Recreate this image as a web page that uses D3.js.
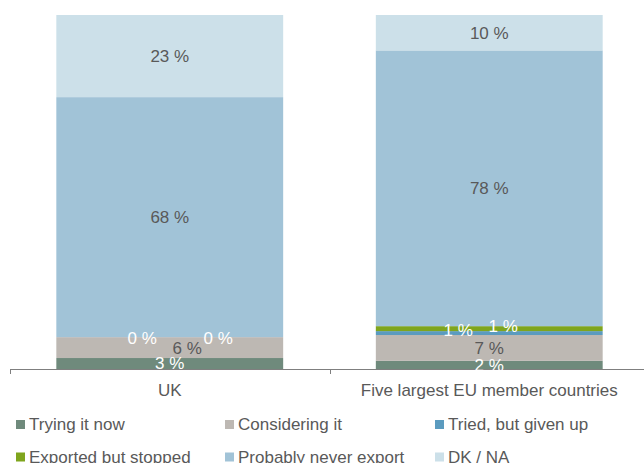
<!DOCTYPE html>
<html>
<head>
<meta charset="utf-8">
<script src="https://cdn.jsdelivr.net/npm/d3@7/dist/d3.min.js"></script>
<style>
  html, body { margin: 0; padding: 0; background: #fff; }
  svg { display: block; font-family: "Liberation Sans", Arial, sans-serif; }
</style>
</head>
<body>
<svg id="chart" width="644" height="463"></svg>
<script>
// ---- Data ----
const categories = ["UK", "Five largest EU member countries"];
const seriesNames = ["Trying it now", "Considering it", "Tried, but given up",
                     "Exported but stopped", "Probably never export", "DK / NA"];
// values per series, in order of categories (percent)
const tryingNow      = [3.1, 2.3];
const consideringIt  = [5.9, 7.3];
const triedGivenUp   = [0.0, 1.1];
const exportedStopped= [0.0, 1.4];
const neverExport    = [67.8, 77.9];
const dkNa           = [23.2, 10.0];
const yDomain = [0, 100];

// ---- Styles ----
const colors = ["#6f8a7c", "#bdb8b3", "#5b9bbf", "#7fa51d", "#a1c3d7", "#cce0e9"];
const labelColors = ["#ffffff", "#595959", "#ffffff", "#ffffff", "#595959", "#595959"];
// manual label nudges [series][category] -> [dx, dy]
const labelNudge = {
  "2-0": [-27.5, 1], "3-0": [48.5, 1],
  "1-0": [17.5, 0],
  "2-1": [-31, -3], "3-1": [14, -3]
};

const seriesValues = [tryingNow, consideringIt, triedGivenUp, exportedStopped, neverExport, dkNa];
const table = categories.map((c, i) => {
  const row = { category: c };
  seriesNames.forEach((s, j) => row[s] = seriesValues[j][i]);
  return row;
});

const svg = d3.select("#chart");
const x = d3.scaleBand().domain(categories).range([10, 649]).paddingInner(0.29).paddingOuter(0.145);
const y = d3.scaleLinear().domain(yDomain).range([369, 15]);

const stack = d3.stack().keys(seriesNames);
const stacked = stack(table);

const g = svg.append("g");
stacked.forEach((layer, si) => {
  g.selectAll(null).data(layer).enter().append("rect")
    .attr("x", d => x(d.data.category))
    .attr("width", x.bandwidth())
    .attr("y", d => y(d[1]))
    .attr("height", d => y(d[0]) - y(d[1]))
    .attr("fill", colors[si]);
});

// axis
const axisY = 369;
svg.append("line").attr("x1", 10).attr("x2", 649).attr("y1", axisY + 0.5).attr("y2", axisY + 0.5)
  .attr("stroke", "#7f7f7f").attr("stroke-width", 1);
const boundaries = [x.range()[0], ...categories.slice(1).map(c => x(c) - x.step() * x.paddingInner() / 2), x.range()[1]];
boundaries.forEach(b => {
  svg.append("line").attr("x1", Math.round(b) + 0.5).attr("x2", Math.round(b) + 0.5)
    .attr("y1", axisY).attr("y2", axisY + 5).attr("stroke", "#7f7f7f");
});
const axis = d3.axisBottom(x).tickSize(0).tickPadding(0);
const ax = svg.append("g").attr("transform", `translate(0,${axisY})`).call(axis);
ax.select(".domain").remove();
ax.selectAll("text").attr("font-size", "17px").attr("fill", "#595959")
  .attr("font-family", "'Liberation Sans', Arial, sans-serif")
  .attr("dy", null).attr("y", 27);

// labels (drawn after all bars)
const fmt = d3.format(".0f");
stacked.forEach((layer, si) => {
  layer.forEach((d, ci) => {
    const nudge = labelNudge[si + "-" + ci] || [0, 0];
    svg.append("text")
      .attr("x", x(d.data.category) + x.bandwidth() / 2 + nudge[0])
      .attr("y", (y(d[0]) + y(d[1])) / 2 + nudge[1])
      .attr("dy", "0.35em")
      .attr("text-anchor", "middle")
      .attr("font-size", "17px")
      .attr("fill", labelColors[si])
      .text(fmt(d.data[seriesNames[si]]) + " %");
  });
});

// legend
const legendCols = [16, 225, 435];
const legendRows = [424.5, 457];
seriesNames.forEach((s, i) => {
  const cx = legendCols[i % 3], cy = legendRows[Math.floor(i / 3)];
  const lg = svg.append("g").attr("transform", `translate(${cx},${cy})`);
  lg.append("rect").attr("x", 0).attr("y", -4.5).attr("width", 9).attr("height", 9).attr("fill", colors[i]);
  lg.append("text").attr("x", 13).attr("y", 0).attr("dy", "0.35em")
    .attr("font-size", "17px").attr("fill", "#595959").text(s);
});
</script>
</body>
</html>
